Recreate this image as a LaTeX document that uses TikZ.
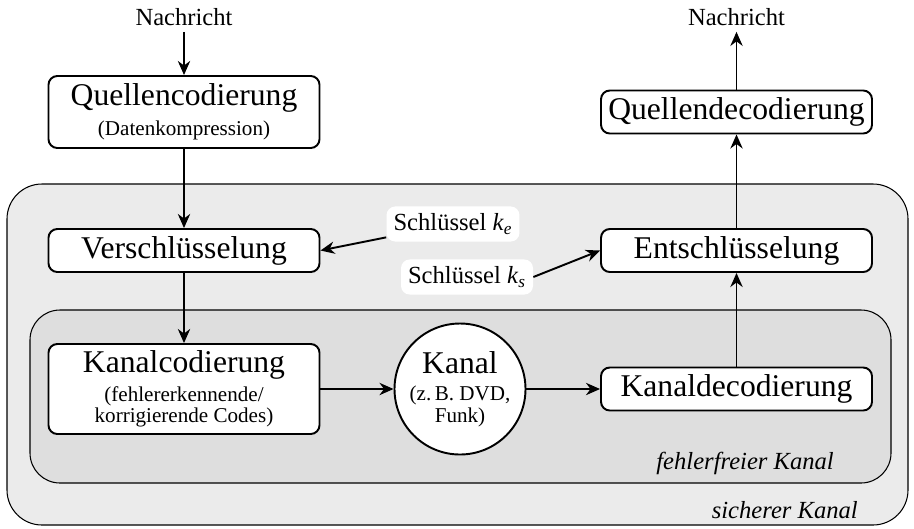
\documentclass[tikz,border=0pt]{standalone}
\usepackage{fontspec}
\setmainfont{Liberation Serif}
\usetikzlibrary{arrows.meta}

\newcommand{\boxtitle}{\fontsize{18}{21}\selectfont}
\newcommand{\boxnote}{\fontsize{12}{17}\selectfont}
\newcommand{\key}[1]{\textit{k}\textsubscript{\textit{#1}}}

\tikzset{
  box/.style={draw, line width=1.1pt, rounded corners=5pt, fill=white,
    minimum width=5.42cm, align=center, inner sep=2pt, font=\boxnote},
  keybox/.style={fill=white, rounded corners=5pt, inner sep=4pt, font=\fontsize{14}{16}\selectfont},
  arr/.style={line width=1.1pt, -{Stealth[length=8pt, width=7pt]}},
  plain/.style={font=\fontsize{14}{16}\selectfont},
  zone/.style={line width=0.6pt, rounded corners=0.7cm},
}

\begin{document}
\begin{tikzpicture}
  \useasboundingbox (0,0) rectangle (18.28,-10.56);

  % secure and error-free zones
  \draw[zone, fill=black!8] (0.14,-3.68) rectangle (18.16,-10.50);
  \draw[zone, rounded corners=0.6cm, fill=black!13] (0.60,-6.20) rectangle (17.82,-9.66);
  \node[plain, anchor=east] (sicher) at (17.28,-10.20) {\textit{sicherer Kanal}};
  \node[plain, anchor=east] (fehlerfrei) at (16.80,-9.26) {\textit{fehlerfreier Kanal}};

  % sender side
  \node[plain] (msgin) at (3.68,-0.34) {Nachricht};
  \node[box, minimum height=1.44cm] (qcod) at (3.68,-2.24)
    {{\boxtitle Quellencodierung}\\(Datenkompression)};
  \node[box, minimum height=0.86cm] (verschl) at (3.68,-5.01) {\boxtitle Verschlüsselung};
  \node[box, minimum height=1.80cm] (kcod) at (3.68,-7.78)
    {{\boxtitle Kanalcodierung}\\[-0.5pt](fehlererkennende/\\[-5pt]korrigierende Codes)};

  % channel
  \node[draw, circle, line width=1.1pt, fill=white, minimum size=2.62cm, align=center,
    inner sep=0pt, font=\boxnote]
    (kanal) at (9.20,-7.78) {{\boxtitle Kanal}\\[-1.5pt](z.\,B. DVD,\\[-4.5pt]Funk)};

  % receiver side
  \node[box, minimum height=0.86cm] (kdec) at (14.73,-7.78) {\boxtitle Kanaldecodierung};
  \node[box, minimum height=0.86cm] (entschl) at (14.73,-5.01) {\boxtitle Entschlüsselung};
  \node[box, minimum height=0.86cm] (qdec) at (14.73,-2.24) {\boxtitle Quellendecodierung};
  \node[plain] (msgout) at (14.73,-0.34) {Nachricht};

  % keys
  \node[keybox] (ke) at (9.06,-4.48) {Schlüssel \key{e}};
  \node[keybox] (ks) at (9.34,-5.54) {Schlüssel \key{s}};

  \draw[arr] (msgin) -- (qcod);
  \draw[arr] (qcod) -- (verschl);
  \draw[arr] (verschl) -- (kcod);
  \draw[arr] (kcod) -- (kanal);
  \draw[arr] (kanal) -- (kdec);
  \draw[arr] (kdec) -- (entschl);
  \draw[arr] (entschl) -- (qdec);
  \draw[arr] (qdec) -- (msgout);
  \draw[arr] (ke) -- (verschl.east);
  \draw[arr] (ks.east) -- (entschl.west);
\end{tikzpicture}
\end{document}
